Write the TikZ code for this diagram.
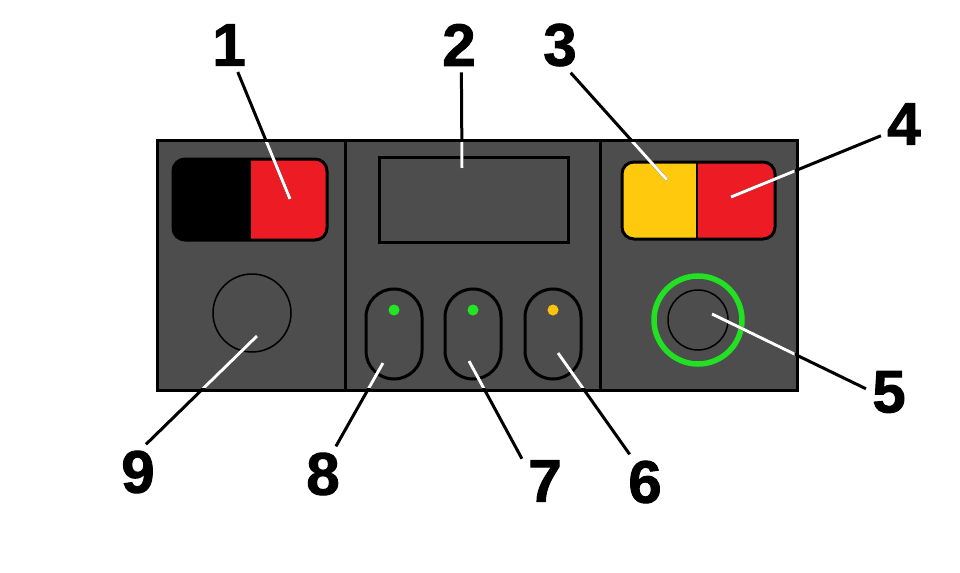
\documentclass[tikz,border=0pt]{standalone}
\usepackage{fontspec}
\newfontfamily\numfont{Liberation Sans Bold}[FakeBold=1.6]
\usepackage{tikz}
\definecolor{panelgray}{HTML}{4D4D4D}
\definecolor{swred}{HTML}{ED1C24}
\definecolor{swyellow}{HTML}{FFC90E}
\definecolor{ledgreen}{HTML}{22E622}
\definecolor{ledorange}{HTML}{FFC20E}
\definecolor{ringgreen}{HTML}{22E022}

\begin{document}
\begin{tikzpicture}[x=0.5pt,y=-0.5pt,
		lbl/.style={font=\numfont\fontsize{30}{30}\selectfont,inner sep=3pt},
		lead/.style={line width=1.5pt},
		btn/.style={draw,line width=1.5pt,minimum width=28pt,minimum height=45pt,rounded corners=14pt,inner sep=0pt},
		led/.style={circle,inner sep=0pt,minimum size=5.5pt}]
		\useasboundingbox (0,0) rectangle (960,573);

		% housing
		\draw[line width=1.5pt,fill=panelgray] (157,140) rectangle (797,390);
		\draw[line width=1.5pt] (345,140) -- (345,390) (600,140) -- (600,390);

		% left switch
		\begin{scope}
			\clip[rounded corners=6pt] (173,159) rectangle (327,240);
			\fill (173,159) rectangle (251,240);
			\fill[swred] (251,159) rectangle (327,240);
		\end{scope}
		\draw[line width=1.5pt,rounded corners=6pt] (173,159) rectangle (327,240);

		% right switch
		\begin{scope}
			\clip[rounded corners=6pt] (622,162) rectangle (775,239);
			\fill[swyellow] (622,162) rectangle (697,239);
			\fill[swred] (697,162) rectangle (775,239);
		\end{scope}
		\draw[line width=1.5pt,rounded corners=6pt] (622,162) rectangle (775,239);
		\draw[line width=1pt] (697,162) -- (697,239);

		% display and buttons
		\node[draw,line width=1.5pt,minimum width=94.5pt,minimum height=42.5pt] (disp) at (473.5,199.5) {};
		\foreach \n/\x/\c in {8/394/ledgreen,7/473/ledgreen,6/553/ledorange}{
			\node[btn] (btn\n) at (\x,334) {};
			\node[led,fill=\c] (led\n) at (\x,310) {};
		}

		% knobs
		\node[circle,draw,line width=0.75pt,minimum size=39pt,inner sep=0pt] (knobL) at (252,313) {};
		\node[circle,draw=ringgreen,line width=2.75pt,minimum size=44pt,inner sep=0pt] (ring) at (698,320) {};
		\node[circle,draw,line width=0.75pt,minimum size=30pt,inner sep=0pt] (knobR) at (698,320) {};

		% leader ends
		\coordinate (t1) at (290,199);
		\coordinate (t2) at (462,168);
		\coordinate (t3) at (667,180);
		\coordinate (t4) at (731,197);
		\coordinate (t5) at (712,314);
		\coordinate (t6) at (558,353);
		\coordinate (t7) at (469,361);
		\coordinate (t8) at (383,363);
		\coordinate (t9) at (257,336);

		% labels
		\node[lbl] (n1) at (229,45) {1};
		\node[lbl] (n2) at (459,45) {2};
		\node[lbl] (n3) at (560,45) {3};
		\node[lbl] (n4) at (904,124) {4};
		\node[lbl] (n5) at (889,392) {5};
		\node[lbl] (n6) at (645,482) {6};
		\node[lbl] (n7) at (545,481) {7};
		\node[lbl] (n8) at (323,474) {8};
		\node[lbl] (n9) at (138,472) {9};

		\foreach \i/\a in {1/-72,2/-85,3/-69,4/207,5/172,6/119,7/136,8/65,9/74}
			\draw[lead] (n\i.\a) -- (t\i);
		\begin{scope}
			\clip (159.5,142.5) rectangle (794.5,387.5);
			\foreach \i/\a in {1/-72,2/-85,3/-69,4/207,5/172,6/119,7/136,8/65,9/74}
				\draw[lead,white] (n\i.\a) -- (t\i);
		\end{scope}
\end{tikzpicture}
\end{document}
